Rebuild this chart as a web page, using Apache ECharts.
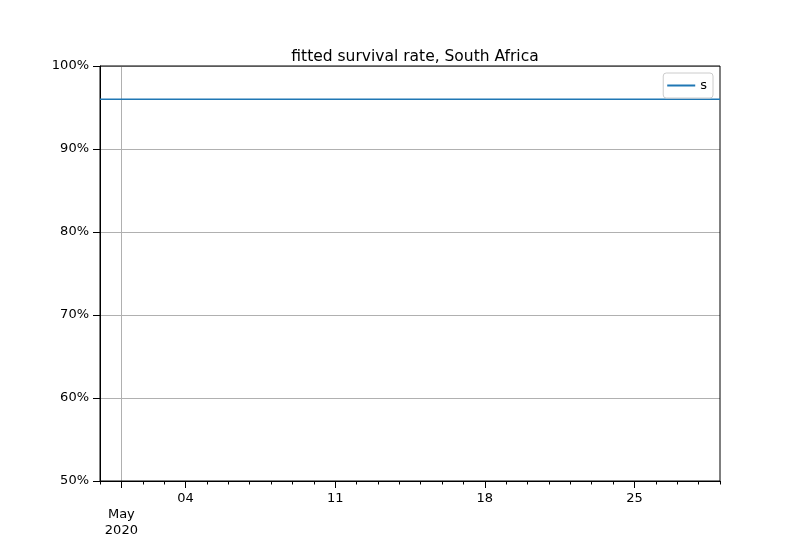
<!DOCTYPE html>
<html>
<head>
<meta charset="utf-8">
<script src="https://cdn.jsdelivr.net/npm/echarts@6/dist/echarts.min.js"></script>
<style>body{margin:0}#c{width:800px;height:550px}</style>
</head>
<body>
<div id="c"></div>
<script>
// dates Apr 30 .. May 29 2020
var days = ['04-30'];
for (var d = 1; d <= 29; d++) days.push('05-' + (d < 10 ? '0' + d : d));
var survival = days.map(function () { return 0.96; });
var majorLabels = {'05-01': '\nMay\n2020', '05-04': '04', '05-11': '11', '05-18': '18', '05-25': '25'};
var yTicks = [0.5, 0.6, 0.7, 0.8, 0.9, 1.0];

var font = 'DejaVu Sans';
var isMajor = function (i, v) { return majorLabels[v] !== undefined; };
var chart = echarts.init(document.getElementById('c'));
chart.setOption({
    animation: false,
    textStyle: {fontFamily: font},
    title: {text: 'fitted survival rate, South Africa', left: 410, top: 44, textAlign: 'center',
        textStyle: {fontSize: 15.5, fontWeight: 'normal', color: '#000', fontFamily: font}},
    legend: {right: 87, top: 73, orient: 'vertical', itemWidth: 28, itemHeight: 2,
        borderColor: '#ccc', borderWidth: 1, borderRadius: 3, padding: [6, 6, 6, 4],
        textStyle: {fontSize: 13, color: '#000'}, icon: 'rect', data: ['s']},
    grid: {left: 100, right: 80, top: 66, bottom: 69},
    xAxis: [{
        type: 'category', data: days, boundaryGap: false,
        axisLine: {lineStyle: {color: '#000'}},
        axisTick: {length: 3.5, interval: 0, lineStyle: {color: '#000'}},
        axisLabel: {show: false},
        splitLine: {show: true, interval: function (i, v) { return v === '05-01'; }, lineStyle: {color: '#b0b0b0'}}
    }, {
        type: 'category', data: days, boundaryGap: false, position: 'bottom',
        axisLine: {show: false},
        axisTick: {length: 7, interval: isMajor, lineStyle: {color: '#000'}},
        axisLabel: {interval: isMajor, color: '#000', fontSize: 13, margin: 10, lineHeight: 16,
            verticalAlign: 'top',
            formatter: function (v) { return majorLabels[v]; }},
        splitLine: {show: false}
    }],
    yAxis: {
        type: 'value', min: 0.5, max: 1.0, interval: 0.1,
        axisLine: {show: true, lineStyle: {color: '#000'}},
        axisTick: {show: true, length: 7, lineStyle: {color: '#000'}},
        axisLabel: {color: '#000', fontSize: 13, margin: 11, formatter: function (v) { return Math.round(v * 100) + '%'; }},
        splitLine: {lineStyle: {color: '#b0b0b0'}}
    },
    series: [{name: 's', type: 'line', data: survival, showSymbol: false, color: '#1f77b4', lineStyle: {width: 1.5}}]
});
// frame top/right spines
chart.setOption({graphic: [{type: 'rect', shape: {x: 100, y: 66, width: 620, height: 415}, style: {fill: 'none', stroke: '#000', lineWidth: 1}, silent: true}]});
</script>
</body>
</html>
